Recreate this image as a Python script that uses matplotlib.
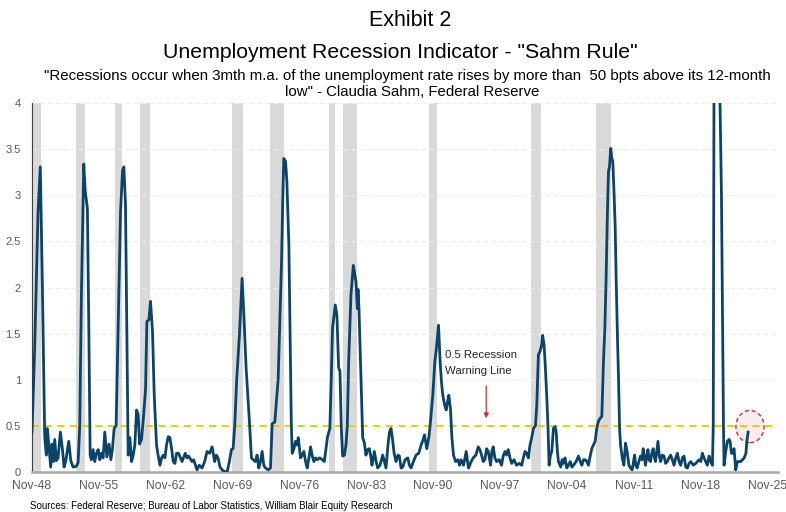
import matplotlib
matplotlib.use("Agg")
import matplotlib.pyplot as plt
from matplotlib.patches import Ellipse

plt.rcParams['font.family'] = ['Liberation Sans', 'DejaVu Sans']

# Sahm rule indicator (decimal year, percentage points)
years = [
    1948.83, 1949.10, 1949.46, 1949.70, 1949.92, 1950.16, 1950.33, 1950.44, 1950.79, 1950.93,
    1951.07, 1951.21, 1951.38, 1951.56, 1951.80, 1952.01, 1952.19, 1952.37, 1952.68, 1952.89,
    1953.13, 1953.48, 1953.66, 1953.83, 1954.00, 1954.25, 1954.40, 1954.63, 1954.78, 1954.92,
    1955.05, 1955.23, 1955.40, 1955.58, 1955.76, 1955.93, 1956.10, 1956.28, 1956.45, 1956.67,
    1956.90, 1957.09, 1957.26, 1957.43, 1957.64, 1957.85, 1958.10, 1958.31, 1958.45, 1958.62,
    1958.76, 1958.90, 1959.08, 1959.25, 1959.43, 1959.60, 1959.78, 1959.95, 1960.09, 1960.30,
    1960.51, 1960.72, 1960.86, 1961.07, 1961.24, 1961.45, 1961.63, 1961.87, 1962.05, 1962.23,
    1962.40, 1962.58, 1962.75, 1962.92, 1963.10, 1963.27, 1963.45, 1963.62, 1963.80, 1963.97,
    1964.18, 1964.54, 1964.88, 1965.06, 1965.23, 1965.58, 1965.76, 1966.11, 1966.35, 1966.64,
    1966.91, 1967.16, 1967.43, 1967.69, 1967.96, 1968.13, 1968.31, 1968.52, 1968.74, 1969.01,
    1969.27, 1969.50, 1969.71, 1969.89, 1970.06, 1970.27, 1970.55, 1970.83, 1971.00, 1971.25,
    1971.46, 1971.60, 1971.81, 1971.99, 1972.23, 1972.40, 1972.58, 1972.75, 1972.93, 1973.10,
    1973.28, 1973.56, 1973.80, 1973.98, 1974.26, 1974.47, 1974.61, 1974.78, 1974.96, 1975.10,
    1975.20, 1975.38, 1975.52, 1975.73, 1975.87, 1975.98, 1976.08, 1976.26, 1976.43, 1976.61,
    1976.71, 1976.95, 1977.13, 1977.30, 1977.48, 1977.65, 1977.83, 1978.00, 1978.18, 1978.35,
    1978.53, 1978.70, 1978.95, 1979.23, 1979.44, 1979.78, 1980.02, 1980.17, 1980.30, 1980.59,
    1980.76, 1980.94, 1981.08, 1981.22, 1981.36, 1981.54, 1981.71, 1981.85, 1981.99, 1982.23,
    1982.48, 1982.65, 1982.76, 1982.90, 1982.97, 1983.07, 1983.28, 1983.46, 1983.64, 1983.80,
    1983.98, 1984.16, 1984.33, 1984.43, 1984.68, 1984.86, 1985.03, 1985.27, 1985.56, 1985.73,
    1985.90, 1986.11, 1986.26, 1986.43, 1986.61, 1986.75, 1986.95, 1987.16, 1987.30, 1987.48,
    1987.65, 1987.90, 1988.18, 1988.35, 1988.53, 1988.77, 1989.05, 1989.33, 1989.58, 1989.76,
    1989.93, 1990.17, 1990.38, 1990.52, 1990.80, 1991.01, 1991.15, 1991.40, 1991.57, 1991.72,
    1991.85, 1992.03, 1992.20, 1992.38, 1992.48, 1992.66, 1992.80, 1992.97, 1993.18, 1993.43,
    1993.60, 1993.77, 1994.02, 1994.30, 1994.44, 1994.55, 1994.82, 1995.03, 1995.31, 1995.56,
    1995.73, 1995.91, 1996.08, 1996.26, 1996.43, 1996.61, 1996.85, 1996.99, 1997.13, 1997.30,
    1997.48, 1997.76, 1998.00, 1998.17, 1998.36, 1998.52, 1998.70, 1998.88, 1999.06, 1999.30,
    1999.58, 1999.86, 2000.11, 2000.28, 2000.46, 2000.63, 2000.81, 2000.98, 2001.16, 2001.34,
    2001.55, 2001.69, 2001.86, 2002.04, 2002.21, 2002.31, 2002.45, 2002.56, 2002.73, 2002.87,
    2002.98, 2003.12, 2003.26, 2003.43, 2003.61, 2003.72, 2003.85, 2003.96, 2004.20, 2004.34,
    2004.48, 2004.65, 2004.83, 2005.00, 2005.20, 2005.37, 2005.53, 2005.81, 2006.06, 2006.24,
    2006.41, 2006.58, 2006.76, 2006.93, 2007.10, 2007.28, 2007.45, 2007.63, 2007.80, 2007.97,
    2008.15, 2008.32, 2008.50, 2008.67, 2008.82, 2008.95, 2009.09, 2009.20, 2009.30, 2009.44,
    2009.55, 2009.65, 2009.79, 2009.90, 2010.00, 2010.15, 2010.25, 2010.36, 2010.46, 2010.64,
    2010.81, 2010.98, 2011.15, 2011.34, 2011.50, 2011.68, 2011.93, 2012.06, 2012.20, 2012.38,
    2012.55, 2012.72, 2012.83, 2012.97, 2013.07, 2013.23, 2013.33, 2013.45, 2013.60, 2013.73,
    2013.88, 2014.02, 2014.12, 2014.25, 2014.38, 2014.52, 2014.66, 2014.83, 2015.01, 2015.18,
    2015.36, 2015.53, 2015.71, 2015.88, 2016.06, 2016.24, 2016.41, 2016.59, 2016.76, 2016.94,
    2017.11, 2017.29, 2017.46, 2017.64, 2017.81, 2018.09, 2018.33, 2018.51, 2018.68, 2018.86,
    2019.03, 2019.20, 2019.38, 2019.55, 2019.73, 2019.90, 2020.08, 2020.17, 2020.25, 2020.33,
    2020.42, 2020.50, 2020.67, 2020.85, 2021.03, 2021.24, 2021.30, 2021.48, 2021.65, 2021.83,
    2021.93, 2022.07, 2022.17, 2022.35, 2022.52, 2022.70, 2022.88, 2023.06, 2023.23, 2023.41,
    2023.59, 2023.69, 2023.82,
]
sahm = [
    0.43, 1.30, 2.82, 3.31, 2.00, 0.38, 0.18, 0.47, 0.05, 0.30,
    0.11, 0.35, 0.12, 0.15, 0.43, 0.25, 0.05, 0.12, 0.33, 0.12,
    0.05, 0.06, 0.10, 0.50, 1.90, 3.34, 3.05, 2.86, 1.56, 0.18,
    0.13, 0.24, 0.11, 0.20, 0.24, 0.13, 0.20, 0.15, 0.43, 0.16,
    0.30, 0.13, 0.25, 0.47, 0.50, 1.56, 2.82, 3.27, 3.31, 2.90,
    1.56, 0.18, 0.37, 0.11, 0.18, 0.29, 0.67, 0.62, 0.30, 0.35,
    0.60, 0.90, 1.63, 1.65, 1.85, 1.52, 0.83, 0.29, 0.17, 0.07,
    0.15, 0.18, 0.15, 0.29, 0.38, 0.37, 0.25, 0.11, 0.09, 0.20,
    0.20, 0.11, 0.20, 0.15, 0.17, 0.11, 0.13, 0.02, 0.07, 0.04,
    0.11, 0.22, 0.20, 0.27, 0.11, 0.18, 0.15, 0.05, 0.02, 0.00,
    0.00, 0.11, 0.24, 0.25, 0.50, 1.01, 1.48, 2.10, 1.74, 1.13,
    0.78, 0.54, 0.15, 0.13, 0.11, 0.18, 0.04, 0.11, 0.22, 0.07,
    0.04, 0.02, 0.04, 0.52, 0.54, 0.83, 1.01, 1.63, 2.28, 3.00,
    3.40, 3.37, 3.15, 2.46, 1.38, 0.54, 0.20, 0.25, 0.33, 0.29,
    0.37, 0.15, 0.18, 0.22, 0.11, 0.04, 0.15, 0.27, 0.17, 0.11,
    0.15, 0.13, 0.15, 0.13, 0.11, 0.38, 0.47, 1.01, 1.56, 1.81,
    1.70, 1.13, 1.09, 0.47, 0.17, 0.18, 0.29, 0.50, 1.19, 1.92,
    2.24, 2.13, 2.06, 1.77, 1.98, 1.77, 1.01, 0.37, 0.31, 0.18,
    0.24, 0.25, 0.15, 0.07, 0.22, 0.11, 0.04, 0.07, 0.18, 0.11,
    0.04, 0.29, 0.43, 0.47, 0.33, 0.20, 0.11, 0.18, 0.17, 0.04,
    0.05, 0.13, 0.15, 0.07, 0.04, 0.11, 0.18, 0.20, 0.29, 0.34,
    0.40, 0.25, 0.37, 0.50, 0.83, 1.19, 1.31, 1.59, 1.19, 0.96,
    0.83, 0.73, 0.67, 0.78, 0.83, 0.67, 0.37, 0.18, 0.11, 0.13,
    0.07, 0.13, 0.07, 0.22, 0.11, 0.04, 0.11, 0.15, 0.18, 0.27,
    0.24, 0.18, 0.11, 0.13, 0.25, 0.22, 0.07, 0.22, 0.27, 0.15,
    0.11, 0.13, 0.07, 0.17, 0.22, 0.18, 0.24, 0.15, 0.09, 0.13,
    0.07, 0.09, 0.07, 0.15, 0.22, 0.20, 0.15, 0.29, 0.37, 0.47,
    0.50, 0.72, 1.27, 1.31, 1.38, 1.48, 1.38, 1.19, 0.83, 0.47,
    0.07, 0.18, 0.22, 0.47, 0.49, 0.43, 0.22, 0.11, 0.05, 0.13,
    0.09, 0.15, 0.04, 0.07, 0.11, 0.05, 0.07, 0.11, 0.17, 0.11,
    0.07, 0.13, 0.13, 0.11, 0.07, 0.17, 0.25, 0.29, 0.33, 0.47,
    0.55, 0.58, 0.60, 1.19, 1.56, 2.10, 2.82, 3.26, 3.31, 3.51,
    3.40, 3.37, 3.00, 2.66, 2.10, 1.41, 1.01, 0.47, 0.29, 0.15,
    0.07, 0.31, 0.22, 0.07, 0.04, 0.02, 0.18, 0.07, 0.04, 0.11,
    0.17, 0.13, 0.25, 0.15, 0.07, 0.18, 0.24, 0.13, 0.11, 0.20,
    0.25, 0.15, 0.11, 0.22, 0.33, 0.17, 0.11, 0.18, 0.17, 0.09,
    0.11, 0.15, 0.18, 0.13, 0.07, 0.15, 0.20, 0.11, 0.07, 0.15,
    0.17, 0.05, 0.04, 0.09, 0.11, 0.07, 0.09, 0.11, 0.13, 0.11,
    0.20, 0.15, 0.11, 0.07, 0.17, 0.11, 0.07, 0.50, 4.50, 7.50,
    9.00, 9.50, 8.00, 4.20, 3.00, 0.50, 0.07, 0.22, 0.33, 0.35,
    0.33, 0.20, 0.20, 0.25, 0.02, 0.11, 0.11, 0.11, 0.13, 0.15,
    0.20, 0.33, 0.43,
]

# NBER recessions (start, end) in decimal years
rec_start = [1948.83, 1953.44, 1957.50, 1960.14, 1969.77, 1973.75, 1979.93, 1981.40, 1990.40, 2001.08, 2007.89, 2020.12]
rec_end   = [1949.77, 1954.38, 1958.30, 1961.19, 1970.92, 1975.22, 1980.56, 1982.86, 1991.24, 2002.10, 2009.46, 2020.25]

tick_years = [1948, 1955, 1962, 1969, 1976, 1983, 1990, 1997, 2004, 2011, 2018, 2025]
threshold = 0.5

line_color = '#0B4468'
grey_txt = '#595959'

fig = plt.figure(figsize=(7.86, 5.12), dpi=100)
ax = fig.add_axes([32 / 786, 1 - 471.7 / 512, 746 / 786, 368.4 / 512])

for s, e in zip(rec_start, rec_end):
    ax.axvspan(s, e, color='#D9D9D9', lw=0, zorder=0)

for yv in [1, 1.5, 2, 2.5, 3, 3.5, 4]:
    ax.axhline(yv, color='#EDEDED', lw=0.8, ls=(0, (4, 3)), zorder=0.5)

ax.axhline(threshold, color='#FFC000', lw=1.3, ls=(0, (4, 3)), zorder=1)

ax.plot(years, sahm, color=line_color, lw=2.0, solid_joinstyle='round', zorder=3)

ax.set_xlim(1948.83, 2026.95)
ax.set_ylim(0, 4)
ax.set_yticks([0, 0.5, 1, 1.5, 2, 2.5, 3, 3.5, 4])
ax.set_yticklabels(['0', '0.5', '1', '1.5', '2', '2.5', '3', '3.5', '4'])
ax.set_xticks([y + 10 / 12 for y in tick_years])
ax.set_xticklabels(['Nov-%02d' % (y % 100) for y in tick_years])
ax.tick_params(axis='y', length=0, pad=8, labelsize=8, labelcolor=grey_txt)
ax.tick_params(axis='x', length=0, pad=6, labelsize=8.7, labelcolor=grey_txt)

for side in ['top', 'right']:
    ax.spines[side].set_visible(False)
ax.spines['left'].set_color('#404040')
ax.spines['left'].set_linewidth(0.8)
ax.spines['bottom'].set_color('#A6A6A6')
ax.spines['bottom'].set_linewidth(1.8)

# Highlight around the latest reading, drawn beneath the warning and series lines
ax.add_patch(Ellipse((years[-1] + 0.2, threshold - 0.01), 2.95, 0.35,
                     facecolor='#FCECEC', edgecolor='#D62B2B', lw=1.0,
                     ls=(0, (3, 2)), zorder=0.8))

ax.text(1992.1, 1.27, '0.5 Recession', fontsize=8.2, color='#262626', va='center', ha='left')
ax.text(1992.1, 1.09, 'Warning Line', fontsize=8.2, color='#262626', va='center', ha='left')
ax.annotate('', xy=(1996.4, 0.58), xytext=(1996.4, 0.93),
            arrowprops=dict(arrowstyle='-|>', color='#E8202A', lw=0.9,
                            mutation_scale=7, shrinkA=0, shrinkB=0))

fig.text(410 / 786, 1 - 20 / 512, 'Exhibit 2', fontsize=15.5, ha='center', va='center', color='black')
fig.text(400 / 786, 1 - 52 / 512, 'Unemployment Recession Indicator - "Sahm Rule"',
         fontsize=15.3, ha='center', va='center', color='black')
fig.text(407 / 786, 1 - 76 / 512,
         '"Recessions occur when 3mth m.a. of the unemployment rate rises by more than  50 bpts above its 12-month',
         fontsize=10.8, ha='center', va='center', color='black')
fig.text(412 / 786, 1 - 92 / 512, 'low" - Claudia Sahm, Federal Reserve',
         fontsize=10.8, ha='center', va='center', color='black')
fig.text(30 / 786, 1 - 506 / 512,
         'Sources: Federal Reserve; Bureau of Labor Statistics, William Blair Equity Research',
         fontsize=7.0, ha='left', va='center', color='black')

fig.savefig('out.png', dpi=100)
